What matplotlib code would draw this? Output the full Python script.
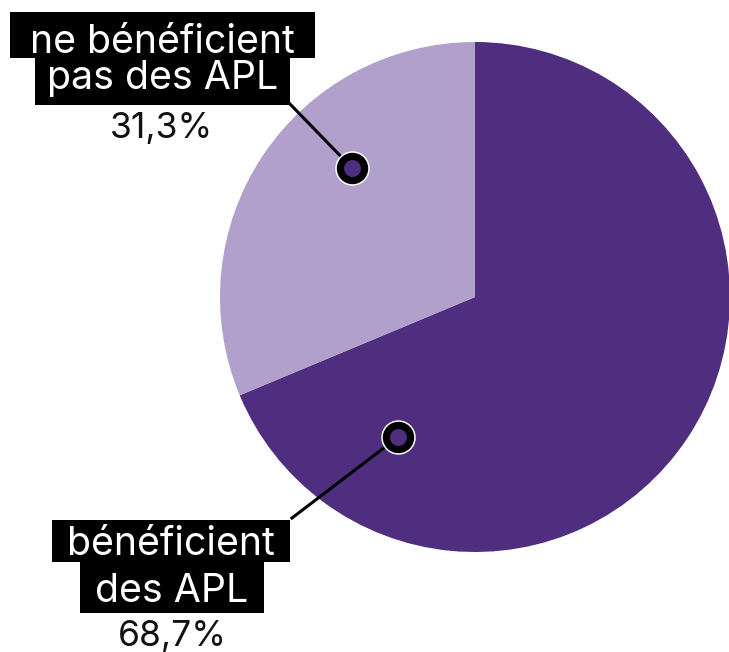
import matplotlib.pyplot as plt
from matplotlib.patches import Rectangle
import numpy as np

labels = ['bénéficient\ndes APL', 'ne bénéficient\npas des APL']
valeurs = [68.7, 31.3]
pourcent = ['68,7%', '31,3%']
couleurs = ['#4f2d7f', '#b1a0cb']

plt.rcParams['font.family'] = ['Inter', 'DejaVu Sans']

H = 652
fig = plt.figure(figsize=(7.29, 6.52), dpi=100)
ax = fig.add_axes([0, 0, 1, 1])

centre = (475, H - 297)
rayon = 255
ax.pie(valeurs, colors=couleurs, startangle=90, counterclock=False,
       center=centre, radius=rayon, frame=True)
ax.set_xlim(0, 729)
ax.set_ylim(0, H)
ax.set_aspect('equal')
ax.axis('off')

# position des marqueurs (angle, distance au centre)
marqueurs = [(241.2, 160), (133.6, 178)]
# coin de la boite relie au marqueur (coordonnees image)
coins = [(292, 518), (290, 104)]
# boites noires : (x0, x1, y0, y1) et ligne de base du texte (coordonnees image)
boites = [[(52, 290, 520, 562, 555), (80, 264, 562, 613, 602)],
          [(10, 315, 12, 58, 53), (35, 290, 58, 105, 89)]]
pct_xy = [(172, 646), (161, 138)]

for i in range(2):
    a, r = marqueurs[i]
    mx = centre[0] + r * np.cos(np.radians(a))
    my = centre[1] + r * np.sin(np.radians(a))
    ax.plot([coins[i][0], mx], [H - coins[i][1], my], color='black', lw=2.2, zorder=3)
    ax.plot(mx, my, 'o', ms=17.4, mfc='white', mec='white', mew=7.4, zorder=4)
    ax.plot(mx, my, 'o', ms=17.4, mfc=couleurs[0], mec='black', mew=5.2, zorder=5)
    for txt, (x0, x1, y0, y1, yb) in zip(labels[i].split('\n'), boites[i]):
        ax.add_patch(Rectangle((x0, H - y1), x1 - x0, y1 - y0, fc='black', ec='none', zorder=6))
        ax.text((x0 + x1) / 2, H - yb, txt, ha='center', va='baseline', fontsize=28.3,
                color='white', zorder=7)
    ax.text(pct_xy[i][0], H - pct_xy[i][1], pourcent[i], ha='center', va='baseline',
            fontsize=25.5, color='#111111', zorder=7)

plt.savefig('out.png', dpi=100)
